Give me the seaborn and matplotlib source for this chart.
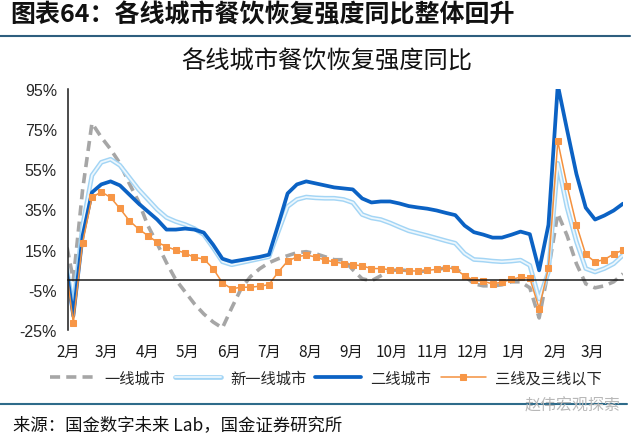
import numpy as np
import pandas as pd
import matplotlib
matplotlib.use("Agg")
import matplotlib.pyplot as plt
import matplotlib.dates as mdates
import matplotlib.transforms as mtransforms
import matplotlib.patheffects as pe
from matplotlib.lines import Line2D
import seaborn as sns

# ---------------- data ----------------
dates = pd.date_range("2020-01-29", periods=61, freq="7D")

tier1 = [24, 0, 45, 78, 71, 65, 58, 48, 39, 27, 18, 8.5, 0, -6, -12, -17,
         -21, -24, -14, -4.5, 1.5, 5.5, 8.5, 10.5, 12, 13.5, 14, 13, 11.5, 10, 10,
         5, 0.5, -0.5, 2, 4.5, 5, 4.5, 4, 4.5, 5, 6, 6, 2, -2, -3,
         -3, -2.5, -1, -1, -4, -19, 5, 33, 22, 8, -2, -4, -3, -1, 3]

new_tier1 = [13, -14, 27, 52, 58.5, 60, 57, 51, 45, 40, 35, 31, 29, 27.5, 25.5, 22.5,
             16, 9, 7.5, 8.5, 9.5, 10.5, 11.5, 24, 36.5, 40, 41.2, 40.8, 40.6, 40.6, 40,
             38.4, 32.5, 30.8, 30, 28.3, 26.3, 24.4, 23.2, 22, 20.7, 19.4, 18.2, 13.1, 10.1, 9.8,
             9.3, 9, 9.3, 9.8, 7.2, -9.6, 4, 58, 36, 19, 5.6, 3.9, 5.6, 8, 12.3]

tier2 = [13, -18, 22, 43.5, 47.5, 49, 47, 42.5, 38, 34, 30, 25, 25, 25.5, 25, 23.5,
         17.5, 10.5, 9, 9.8, 10.6, 11.4, 12.5, 27.5, 43, 47.5, 49, 48, 47, 46, 45.5,
         45, 40.5, 38.5, 39, 39, 38, 36.7, 36, 35.4, 34.5, 33.3, 32.2, 27, 23.7, 22.5,
         21, 21, 22.4, 24, 22.7, 4.7, 27.4, 97, 74.6, 52.7, 35.9, 30, 32, 34.5, 37.9]

tier3 = [13, -21.4, 18.5, 41, 43.8, 41, 35.5, 29.5, 25.3, 22, 18.7, 16.5, 14.8, 13.3, 11.1, 10.4,
         5.6, -1.5, -4.5, -3.7, -3.7, -3.2, -2.4, 3.9, 9.3, 11.4, 12.3, 11.4, 9.8, 8.9, 8.1,
         7.6, 6.9, 5.6, 5.6, 5, 4.7, 4.4, 4.4, 4.7, 5.2, 5.9, 5.6, 1.9, -0.3, -0.8,
         -2, -1.2, 0.2, 1.3, 0.8, -14.3, 6, 69, 46.8, 27.4, 12.6, 8.9, 10.1, 12.8, 14.8]

series_names = ["一线城市", "新一线城市", "二线城市", "三线及三线以下"]
month_starts = pd.date_range("2020-02-01", "2021-03-01", freq="MS")
month_labels = ["2月", "3月", "4月", "5月", "6月", "7月", "8月", "9月",
                "10月", "11月", "12月", "1月", "2月", "3月"]
y_ticks = [-25, -5, 15, 35, 55, 75, 95]
y_tick_labels = ["-25%", "-5%", "15%", "35%", "55%", "75%", "95%"]

heading = "图表64：各线城市餐饮恢复强度同比整体回升"
subtitle = "各线城市餐饮恢复强度同比"
source = "来源：国金数字未来 Lab，国金证券研究所"
watermark = "赵伟宏观探索"

df = pd.DataFrame({"date": dates, series_names[0]: tier1, series_names[1]: new_tier1,
                   series_names[2]: tier2, series_names[3]: tier3})

# ---------------- style ----------------
sns.set_style("white")
plt.rcParams['font.family'] = ['Noto Sans CJK SC', 'DejaVu Sans']

W, H = 640, 435
fig = plt.figure(figsize=(6.4, 4.35), dpi=100)
ax = fig.add_axes([68 / W, 1 - 331 / H, (623 - 68) / W, (331 - 90) / H])

sns.lineplot(data=df, x="date", y=series_names[0], ax=ax, color="#A6A6A6", lw=2.6,
             linestyle=(0, (2.8, 1.7)), label=series_names[0])
sns.lineplot(data=df, x="date", y=series_names[1], ax=ax, color="#EDF7FD", lw=1.3,
             path_effects=[pe.Stroke(linewidth=3.4, foreground="#A3D5F5"), pe.Normal()],
             label=series_names[1])
sns.lineplot(data=df, x="date", y=series_names[2], ax=ax, color="#0B62C4", lw=2.7,
             label=series_names[2])
sns.lineplot(data=df, x="date", y=series_names[3], ax=ax, color="#F4913E", lw=1.1,
             marker="s", markersize=5, markeredgecolor="#F79646", markerfacecolor="#F79646",
             label=series_names[3])

handles, labels = ax.get_legend_handles_labels()
if ax.get_legend() is not None:
    ax.get_legend().remove()

ax.set_xlim(dates[0] + pd.Timedelta(days=3), dates[-1])
ax.set_ylim(-25, 95)
ax.set_xlabel("")
ax.set_ylabel("")

ax.set_yticks(y_ticks)
ax.set_yticklabels(y_tick_labels, fontfamily="Liberation Sans", fontsize=11.5, color="#262626")
ax.set_xticks(month_starts)
ax.set_xticklabels([])

for s in ["top", "right"]:
    ax.spines[s].set_visible(False)
ax.spines["bottom"].set_position(("data", 0))
for s in ["left", "bottom"]:
    ax.spines[s].set_color("#1a1a1a")
    ax.spines[s].set_linewidth(1.1)
ax.tick_params(axis="x", direction="out", length=4, width=1.1, color="#1a1a1a")
ax.tick_params(axis="y", direction="out", length=5, width=1.1, color="#1a1a1a", pad=3)

trans = mtransforms.blended_transform_factory(ax.transData, ax.transAxes)
for d, lab in zip(month_starts, month_labels):
    ax.text(mdates.date2num(d), (331 - 352) / (331 - 90), lab, transform=trans,
            ha="center", va="center", fontsize=11, color="#1a1a1a")

fig.legend(handles, labels, loc="center", bbox_to_anchor=(326 / W, 1 - 379 / H), ncol=4,
           frameon=False, handlelength=3.0, handletextpad=0.6,
           columnspacing=0.6, prop={"size": 11})

# ---------------- header / footer ----------------
fig.text(10 / W, 1 - 15 / H, heading, fontsize=18, fontweight="bold", fontstyle="italic",
         color="#111111", ha="left", va="center")
fig.add_artist(Line2D([0, 630 / W], [1 - 37 / H, 1 - 37 / H], color="#2E5E7E", lw=1.5))
fig.text(327 / W, 1 - 62 / H, subtitle, fontsize=17.5, color="#111111", ha="center", va="center")

fig.add_artist(Line2D([0, 627 / W], [1 - 405 / H, 1 - 405 / H], color="#2E6B8A", lw=1.5))
fig.text(13 / W, 1 - 425 / H, source, fontsize=12.5, color="#111111", ha="left", va="center")
fig.text(573 / W, 1 - 406 / H, watermark, fontsize=11.5, color="#B8B8B8", ha="center", va="center")

fig.savefig("out.png", dpi=100)
